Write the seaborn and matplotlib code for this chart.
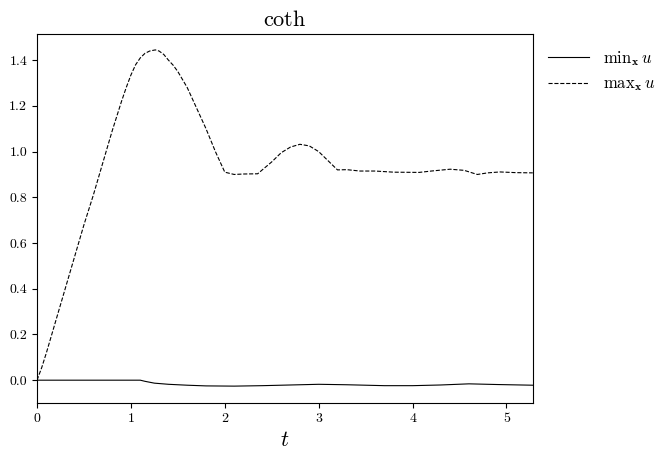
import matplotlib
matplotlib.use("Agg")
import matplotlib.pyplot as plt
import seaborn as sns
import pandas as pd

# valeurs
t_max = [0.0, 0.05, 0.1, 0.2, 0.3, 0.4, 0.5, 0.6, 0.7, 0.8, 0.9, 0.95, 1.0,
         1.05, 1.1, 1.15, 1.2, 1.26, 1.3, 1.35, 1.4, 1.45, 1.5, 1.6, 1.7, 1.8,
         1.9, 2.0, 2.1, 2.2, 2.35, 2.5, 2.6, 2.7, 2.8, 2.9, 3.0, 3.1, 3.2, 3.3,
         3.44, 3.6, 3.8, 4.07, 4.2, 4.4, 4.55, 4.65, 4.69, 4.8, 4.93, 5.1, 5.28]
u_max = [0.0, 0.055, 0.12, 0.26, 0.40, 0.54, 0.68, 0.81, 0.95, 1.09, 1.22,
         1.28, 1.335, 1.38, 1.41, 1.43, 1.44, 1.445, 1.44, 1.425, 1.40, 1.378,
         1.35, 1.28, 1.19, 1.10, 1.00, 0.91, 0.90, 0.902, 0.903, 0.955, 0.995,
         1.02, 1.032, 1.025, 1.0, 0.96, 0.92, 0.921, 0.915, 0.915, 0.91, 0.909,
         0.915, 0.923, 0.918, 0.905, 0.90, 0.907, 0.911, 0.908, 0.907]

t_min = [0.0, 1.1, 1.15, 1.25, 1.4, 1.6, 1.8, 2.1, 2.4, 2.7, 3.0, 3.3, 3.7, 4.0,
         4.3, 4.6, 4.9, 5.28]
u_min = [0.0, 0.0, -0.005, -0.013, -0.018, -0.022, -0.025, -0.026, -0.024,
         -0.021, -0.018, -0.02, -0.024, -0.024, -0.021, -0.016, -0.019, -0.022]

lab_min = r"$\mathrm{min}_{\mathbf{x}}\, u$"
lab_max = r"$\mathrm{max}_{\mathbf{x}}\, u$"

df = pd.concat([
    pd.DataFrame({"t": t_min, "u": u_min, "serie": lab_min}),
    pd.DataFrame({"t": t_max, "u": u_max, "serie": lab_max}),
])

plt.rcParams["font.family"] = "serif"
plt.rcParams["font.serif"] = ["cmr10"]
plt.rcParams["mathtext.fontset"] = "cm"
plt.rcParams["axes.formatter.use_mathtext"] = True
plt.rcParams["axes.unicode_minus"] = False

fig = plt.figure(figsize=(6.61, 4.58), dpi=100)
ax = fig.add_axes([0.056, 0.12, 0.750, 0.806])

sns.lineplot(data=df, x="t", y="u", style="serie", color="black",
             linewidth=0.8, ax=ax, sort=False, estimator=None)
ax.lines[0].set_linestyle("-")
ax.lines[1].set_linestyle("--")

ax.set_xlim(0, 5.28)
ax.set_ylim(-0.1, 1.515)
ax.set_xticks([0, 1, 2, 3, 4, 5])
ax.set_xticklabels(["0", "1", "2", "3", "4", "5"])
ax.set_yticks([0.0, 0.2, 0.4, 0.6, 0.8, 1.0, 1.2, 1.4])
ax.set_yticklabels(["0.0", "0.2", "0.4", "0.6", "0.8", "1.0", "1.2", "1.4"])
ax.tick_params(labelsize=10)
ax.set_xlabel(r"$t$", fontsize=16)
ax.set_ylabel("")
ax.set_title(r"$\mathrm{coth}$", fontsize=16)

leg = ax.legend(loc="upper left", bbox_to_anchor=(1.0, 1.0), frameon=False,
                fontsize=12, handlelength=2.5)
for h, ls in zip(leg.get_lines(), ["-", "--"]):
    h.set_linewidth(0.8)
    h.set_color("black")
    h.set_linestyle(ls)

fig.savefig("out.png", dpi=100)
